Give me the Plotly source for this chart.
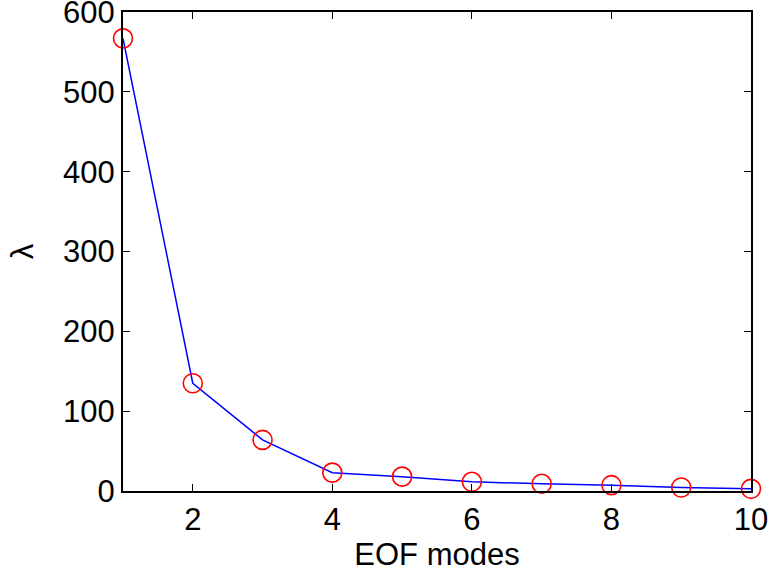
import plotly.graph_objects as go

# EOF mode numbers and their eigenvalues
modes = [1, 2, 3, 4, 5, 6, 7, 8, 9, 10]
eigenvalues = [567, 135, 64, 23, 18, 11.5, 9, 7.3, 4.4, 2.7]

x_ticks = [2, 4, 6, 8, 10]
y_ticks = [0, 100, 200, 300, 400, 500, 600]

font_family = "Liberation Sans, Arial, Helvetica, sans-serif"
font_size = 31

fig = go.Figure()
fig.add_trace(go.Scatter(
    x=modes, y=eigenvalues, mode="lines",
    line=dict(color="#0000ff", width=1.5),
    showlegend=False, cliponaxis=False,
))
fig.add_trace(go.Scatter(
    x=modes, y=eigenvalues, mode="markers",
    marker=dict(symbol="circle-open", size=19, color="#ff0000",
                line=dict(color="#ff0000", width=1.6)),
    showlegend=False, cliponaxis=False,
))

axis_common = dict(
    showgrid=False, zeroline=False, showline=True, linecolor="black",
    linewidth=2, mirror="ticks", ticks="inside", ticklen=7,
    tickcolor="black", tickwidth=1, automargin=False,
    ticklabeloverflow="allow",
    tickfont=dict(family=font_family, size=font_size, color="black"),
)

fig.update_layout(
    width=771, height=581,
    margin=dict(l=123, r=20, t=12, b=90),
    paper_bgcolor="white", plot_bgcolor="white",
    xaxis=dict(range=[1, 10], tickvals=x_ticks,
               title=dict(text="EOF modes", standoff=4,
                          font=dict(family=font_family, size=font_size, color="black")),
               **axis_common),
    yaxis=dict(range=[0, 600.001], tickvals=y_ticks,
               title=dict(text="λ", standoff=20,
                          font=dict(family=font_family, size=font_size, color="black")),
               **axis_common),
)

fig.write_html("out.html")
